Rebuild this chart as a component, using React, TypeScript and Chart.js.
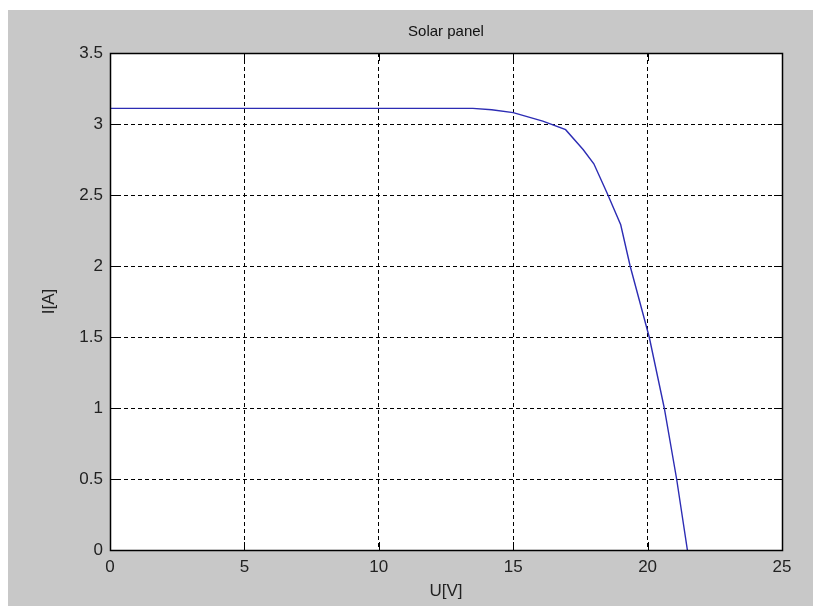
import React, { useEffect, useRef } from "react";
import { Chart, registerables } from "chart.js";

Chart.register(...registerables);

const voltage = [0, 13.5, 14.2, 15.0, 16.1, 16.95, 17.6, 18.0, 18.5, 19.0, 19.35, 20.06, 20.62, 21.08, 21.48];
const current = [3.11, 3.11, 3.1, 3.08, 3.02, 2.96, 2.82, 2.72, 2.51, 2.29, 2.0, 1.5, 1.0, 0.5, 0];
const xTicks = [0, 5, 10, 15, 20, 25];
const yTicks = [0, 0.5, 1, 1.5, 2, 2.5, 3, 3.5];
const xTickLabels = ["0", "5", "10", "15", "20", "25"];
const yTickLabels = ["0", "0.5", "1", "1.5", "2", "2.5", "3", "3.5"];

const FONT = "'Liberation Sans', Arial, sans-serif";

const boxPlugin = {
  id: "matlabBox",
  afterDraw(chart: any) {
    const { ctx, chartArea } = chart;
    const { left, right, top, bottom } = chartArea;
    const xs = chart.scales.x;
    const ys = chart.scales.y;
    const tl = 8;
    ctx.save();
    ctx.strokeStyle = "#000";
    ctx.lineWidth = 1;
    ctx.setLineDash([]);
    ctx.beginPath();
    xTicks.forEach((v) => {
      const px = Math.round(xs.getPixelForValue(v)) + 0.5;
      ctx.moveTo(px, bottom);
      ctx.lineTo(px, bottom - tl);
      ctx.moveTo(px, top);
      ctx.lineTo(px, top + tl);
    });
    yTicks.forEach((v) => {
      const py = Math.round(ys.getPixelForValue(v)) + 0.5;
      ctx.moveTo(left, py);
      ctx.lineTo(left + tl, py);
      ctx.moveTo(right, py);
      ctx.lineTo(right - tl, py);
    });
    ctx.stroke();
    ctx.lineWidth = 1.5;
    ctx.strokeRect(Math.round(left) + 0.5, Math.round(top) + 0.5, Math.round(right - left), Math.round(bottom - top));
    ctx.restore();
  },
};

const whitePlot = {
  id: "whitePlot",
  beforeDraw(chart: any) {
    const { ctx, chartArea } = chart;
    ctx.save();
    ctx.fillStyle = "#ffffff";
    ctx.fillRect(chartArea.left, chartArea.top, chartArea.right - chartArea.left, chartArea.bottom - chartArea.top);
    ctx.restore();
  },
};

export default function App() {
  const ref = useRef<HTMLCanvasElement | null>(null);
  useEffect(() => {
    if (!ref.current) return;
    const gridColor = (vals: number[]) => (c: any) => {
      const v = c.tick ? c.tick.value : null;
      if (v === vals[0] || v === vals[vals.length - 1]) return "rgba(0,0,0,0)";
      return "#000";
    };
    const chart = new Chart(ref.current, {
      type: "line",
      data: {
        datasets: [
          {
            label: "I(U)",
            data: voltage.map((u, i) => ({ x: u, y: current[i] })),
            borderColor: "#2c2cb4",
            borderWidth: 1.4,
            pointRadius: 0,
            fill: false,
            tension: 0,
          },
        ],
      },
      plugins: [whitePlot, boxPlugin],
      options: {
        responsive: false,
        animation: false,
        maintainAspectRatio: false,
        layout: { padding: { left: 0, right: 31, top: 0, bottom: 0 } },
        plugins: {
          legend: { display: false },
          tooltip: { enabled: false },
          title: {
            display: true,
            text: "Solar panel",
            color: "#111",
            fullSize: false,
            font: { family: FONT, size: 15, weight: "normal", lineHeight: 1.2 },
            padding: { top: 12.5, bottom: 12.5 },
          },
        },
        scales: {
          x: {
            type: "linear",
            min: 0,
            max: 25,
            afterBuildTicks: (s: any) => {
              s.ticks = xTicks.map((v) => ({ value: v }));
            },
            afterFit: (s: any) => {
              s.height = 56;
            },
            ticks: {
              color: "#222",
              padding: 7,
              maxRotation: 0,
              autoSkip: false,
              font: { family: FONT, size: 17, lineHeight: 1.2 },
              callback: (v: any) => xTickLabels[xTicks.indexOf(Number(v))] ?? "",
            },
            grid: { color: gridColor(xTicks), drawTicks: false, lineWidth: 1 },
            border: { display: false, dash: [4, 3] },
            title: {
              display: true,
              text: "U[V]",
              color: "#222",
              font: { family: FONT, size: 17, lineHeight: 1.2 },
              padding: { top: 0, bottom: 4 },
            },
          },
          y: {
            type: "linear",
            min: 0,
            max: 3.5,
            afterBuildTicks: (s: any) => {
              s.ticks = yTicks.map((v) => ({ value: v }));
            },
            afterFit: (s: any) => {
              s.width = 102;
            },
            ticks: {
              color: "#222",
              padding: 7,
              autoSkip: false,
              font: { family: FONT, size: 17, lineHeight: 1.2 },
              callback: (v: any) => yTickLabels[yTicks.indexOf(Number(v))] ?? "",
            },
            grid: { color: gridColor(yTicks), drawTicks: false, lineWidth: 1 },
            border: { display: false, dash: [4, 3] },
            title: {
              display: true,
              text: "I[A]",
              color: "#222",
              font: { family: FONT, size: 17, lineHeight: 1.2 },
              padding: { top: 31, bottom: 0 },
            },
          },
        },
      },
    });
    return () => chart.destroy();
  }, []);

  return (
    <div
      style={{
        position: "absolute",
        left: 8,
        top: 10,
        width: 805,
        height: 596,
        background: "#c8c8c8",
      }}
    >
      <canvas ref={ref} width={805} height={596} style={{ display: "block" }} />
    </div>
  );
}
